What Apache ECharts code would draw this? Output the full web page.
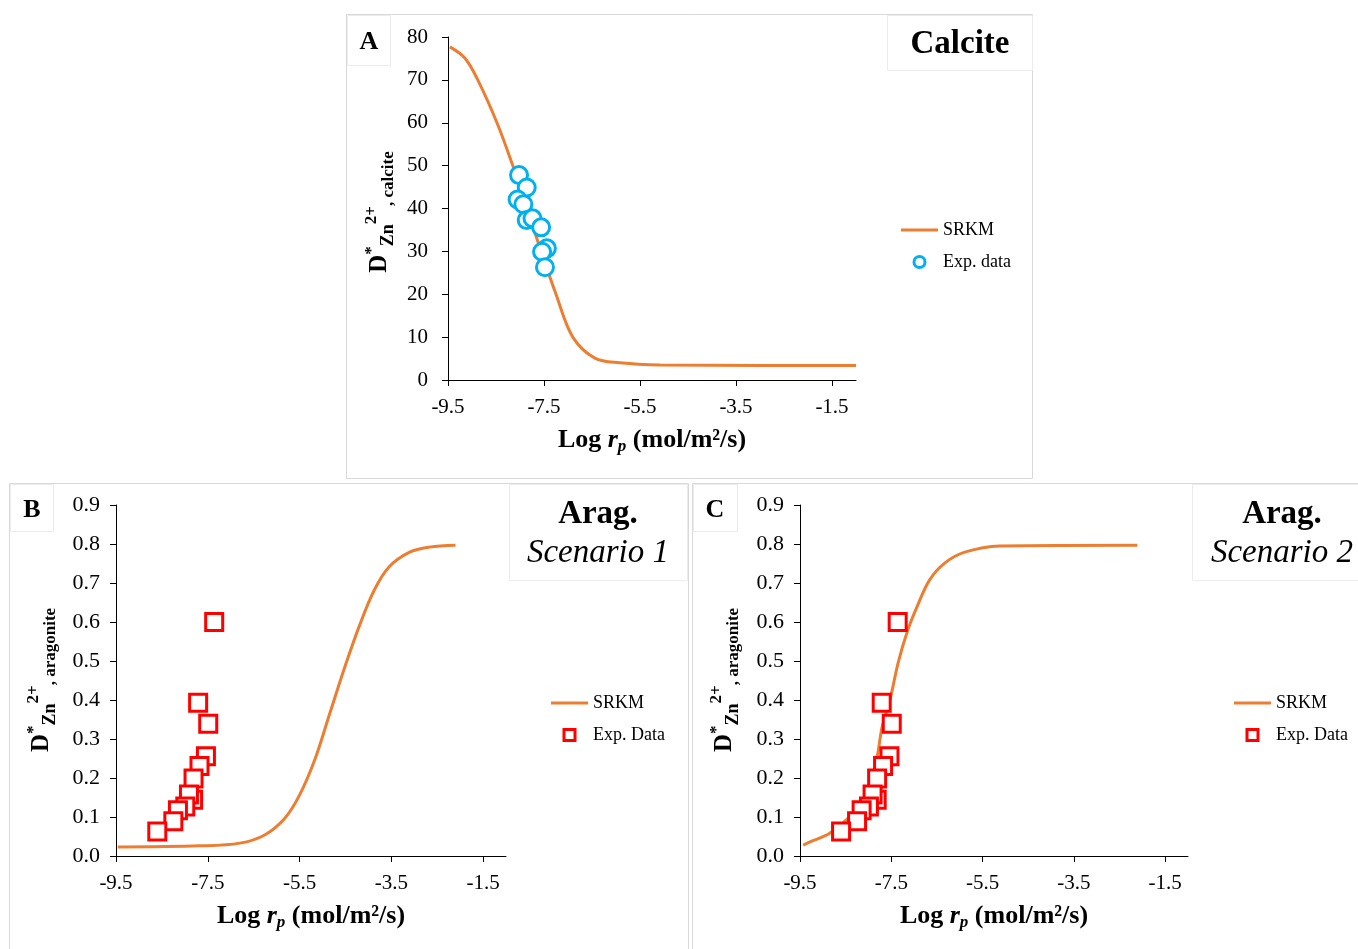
<!DOCTYPE html>
<html>
<head>
<meta charset="utf-8">
<script src="https://cdn.jsdelivr.net/npm/echarts@6/dist/echarts.min.js"></script>
<style>
  html, body { margin: 0; padding: 0; background: #fff; }
  #chart { width: 1358px; height: 949px; }
</style>
</head>
<body>
<div id="chart"></div>
<script>
// x tick labels shared by all three panels
const xTicks = [-9.5, -7.5, -5.5, -3.5, -1.5];

// Panel A - calcite, SRKM model curve [log rp, D]
const calciteModel = [
  [-9.46, 77.7], [-9.15, 75.1], [-8.88, 70.0], [-8.48, 60.0], [-8.15, 50.0],
  [-7.85, 40.0], [-7.56, 30.0], [-7.25, 20.0], [-6.90, 10.0], [-6.44, 5.1],
  [-5.92, 4.0], [-5.08, 3.5], [-3.0, 3.4], [-1.0, 3.4]
];
// Panel A - experimental data
const calciteExp = [
  [-8.02, 47.8], [-7.86, 44.9], [-8.05, 42.1], [-7.93, 41.0], [-7.86, 37.3],
  [-7.74, 37.7], [-7.56, 35.6], [-7.44, 30.7], [-7.54, 29.9], [-7.48, 26.3]
];

// Panel B - aragonite scenario 1 model curve
const aragModel1 = [
  [-9.46, 0.023], [-7.67, 0.026], [-6.80, 0.033], [-6.26, 0.054], [-5.82, 0.097],
  [-5.50, 0.156], [-5.17, 0.246], [-4.85, 0.362], [-4.52, 0.482], [-4.19, 0.592],
  [-3.87, 0.682], [-3.55, 0.741], [-3.10, 0.779], [-2.67, 0.792], [-2.10, 0.797]
];
// Panel C - aragonite scenario 2 model curve
const aragModel2 = [
  [-9.43, 0.028], [-9.28, 0.036], [-8.84, 0.059], [-8.34, 0.110], [-7.97, 0.177],
  [-7.81, 0.254], [-7.70, 0.331], [-7.53, 0.400], [-7.35, 0.495], [-7.16, 0.572],
  [-6.94, 0.638], [-6.66, 0.708], [-6.33, 0.751], [-5.89, 0.779], [-5.13, 0.795],
  [-2.11, 0.797]
];
// Panels B and C - aragonite experimental data
const aragExp = [
  [-7.36, 0.600], [-7.71, 0.393], [-7.49, 0.339], [-7.54, 0.256], [-7.68, 0.231],
  [-7.81, 0.199], [-7.82, 0.144], [-7.91, 0.158], [-7.99, 0.127], [-8.15, 0.117],
  [-8.25, 0.089], [-8.60, 0.063]
];

const FONT = '"Liberation Serif", "Times New Roman", serif';
const ORANGE = '#ED7D31';
const BLUE = '#00B0F0';
const RED = '#FF0000';

const chart = echarts.init(document.getElementById('chart'));

function xAxisFor(gridIndex) {
  return {
    type: 'value', gridIndex, min: -9.5, max: -1,
    axisLine: { lineStyle: { color: '#000', width: 1 } },
    axisTick: { customValues: xTicks, length: 6, lineStyle: { color: '#000' } },
    axisLabel: {
      customValues: xTicks, margin: 17,
      color: '#000', fontFamily: FONT, fontSize: 21,
      formatter: (v) => v.toFixed(1)
    },
    splitLine: { show: false }
  };
}

function yAxisFor(gridIndex, max, interval, digits, fontSize, margin) {
  return {
    type: 'value', gridIndex, min: 0, max, interval,
    axisLine: { show: true, lineStyle: { color: '#000', width: 1 } },
    axisTick: { show: true, length: 6, lineStyle: { color: '#000' } },
    axisLabel: {
      margin, color: '#000', fontFamily: FONT, fontSize,
      formatter: (v) => v.toFixed(digits)
    },
    splitLine: { show: false }
  };
}

// rich text styles for the axis titles
const yRich = {
  d: { fontFamily: FONT, fontSize: 25, fontWeight: 'bold', lineHeight: 34, color: '#000' },
  st: { fontFamily: FONT, fontSize: 17, fontWeight: 'bold', lineHeight: 22, verticalAlign: 'top', color: '#000' },
  zn: { fontFamily: FONT, fontSize: 18, fontWeight: 'bold', lineHeight: 16, verticalAlign: 'bottom', color: '#000' },
  sup: { fontFamily: FONT, fontSize: 17, fontWeight: 'bold', lineHeight: 24, verticalAlign: 'top', color: '#000' },
  sub: { fontFamily: FONT, fontSize: 17, fontWeight: 'bold', lineHeight: 16, verticalAlign: 'bottom', color: '#000' }
};
const xRich = {
  b: { fontFamily: FONT, fontSize: 26, fontWeight: 'bold', lineHeight: 30, color: '#000' },
  i: { fontFamily: FONT, fontSize: 26, fontWeight: 'bold', fontStyle: 'italic', lineHeight: 30, color: '#000' },
  p: { fontFamily: FONT, fontSize: 17, fontWeight: 'bold', fontStyle: 'italic', lineHeight: 16, verticalAlign: 'bottom', color: '#000' }
};
const xTitle = '{b|Log }{i|r}{p|p}{b| (mol/m²/s)}';

function frame(x, y, w, h, color) {
  return {
    type: 'rect', shape: { x, y, width: w, height: h }, z: -1,
    style: { fill: null, stroke: color, lineWidth: 1 }
  };
}
function label(x, y, text, size, weight, style) {
  return {
    type: 'text', x, y, z: 10,
    style: {
      text, fontFamily: FONT, fontSize: size, fontWeight: weight, fontStyle: style || 'normal',
      fill: '#000', align: 'center', verticalAlign: 'middle'
    }
  };
}
function richLabel(x, y, text, rich, rotation) {
  return {
    type: 'text', x, y, rotation: rotation || 0, z: 10,
    style: { text, rich, align: 'center', verticalAlign: 'middle' }
  };
}

const LINE_ICON = 'path://M0,0H12V1H0Z';
const SQUARE_ICON = 'path://M0,0H10V10H0Z';

const legendBase = {
  orient: 'vertical', padding: 0, itemGap: 14,
  itemWidth: 37, itemHeight: 11, symbolKeepAspect: true,
  textStyle: { fontFamily: FONT, fontSize: 18, color: '#000' },
  itemStyle: { borderWidth: 3 },
  selectedMode: false
};

const lineSeries = (name, data, idx) => ({
  name, type: 'line', data, xAxisIndex: idx, yAxisIndex: idx,
  smooth: 0.35, symbol: 'none',
  lineStyle: { color: ORANGE, width: 3 }, itemStyle: { color: ORANGE }, z: 2
});
const scatterSeries = (name, data, idx, symbol, color) => ({
  name, type: 'scatter', data, xAxisIndex: idx, yAxisIndex: idx,
  symbol, symbolSize: 17,
  itemStyle: { color: '#fff', borderColor: color, borderWidth: 3, opacity: 1 }, z: 3
});

const lineItem = { name: 'SRKM', icon: LINE_ICON, itemStyle: { borderWidth: 0 } };

const option = {
  animation: false,
  backgroundColor: '#fff',
  grid: [
    { left: 448, top: 37, width: 408, height: 343 },
    { left: 116, top: 505, width: 390, height: 351 },
    { left: 800, top: 505, width: 388, height: 351 }
  ],
  xAxis: [xAxisFor(0), xAxisFor(1), xAxisFor(2)],
  yAxis: [
    yAxisFor(0, 80, 10, 0, 21, 20),
    yAxisFor(1, 0.9, 0.1, 1, 22, 16),
    yAxisFor(2, 0.9, 0.1, 1, 22, 16)
  ],
  legend: [
    Object.assign({}, legendBase, { left: 901, top: 221, data: [lineItem, 'Exp. data'] }),
    Object.assign({}, legendBase, { left: 551, top: 694, data: [lineItem, { name: 'Exp. Data', icon: SQUARE_ICON }] }),
    Object.assign({}, legendBase, { left: 1234, top: 694, data: [lineItem, { name: 'Exp. Data', icon: SQUARE_ICON }] })
  ],
  series: [
    lineSeries('SRKM', calciteModel, 0),
    scatterSeries('Exp. data', calciteExp, 0, 'circle', BLUE),
    lineSeries('SRKM', aragModel1, 1),
    scatterSeries('Exp. Data', aragExp, 1, 'rect', RED),
    lineSeries('SRKM', aragModel2, 2),
    scatterSeries('Exp. Data', aragExp, 2, 'rect', RED)
  ],
  graphic: [
    // panel frames
    frame(346.5, 14.5, 686, 464, '#d9d9d9'),
    frame(9.5, 483.5, 679, 470, '#d9d9d9'),
    frame(692.5, 483.5, 670, 470, '#d9d9d9'),
    // letter and title boxes
    frame(347.5, 15.5, 43, 50, '#ececec'),
    frame(887.5, 15.5, 145, 55, '#ececec'),
    frame(10.5, 484.5, 43, 47, '#ececec'),
    frame(509.5, 484.5, 178, 96, '#ececec'),
    frame(693.5, 484.5, 44, 47, '#ececec'),
    frame(1192.5, 484.5, 170, 96, '#ececec'),
    label(369, 42, 'A', 26, 'bold'),
    label(32, 510, 'B', 26, 'bold'),
    label(715, 510, 'C', 26, 'bold'),
    label(960, 44, 'Calcite', 33, 'bold'),
    label(598, 514, 'Arag.', 33, 'bold'),
    label(598, 553, 'Scenario 1', 33, 'normal', 'italic'),
    label(1282, 514, 'Arag.', 33, 'bold'),
    label(1282, 553, 'Scenario 2', 33, 'normal', 'italic'),
    // axis titles
    richLabel(652, 440, xTitle, xRich),
    richLabel(311, 916, xTitle, xRich),
    richLabel(994, 916, xTitle, xRich),
    richLabel(380, 212, '{d|D}{st|*}{zn|Zn}{sup|2+}{sub|, calcite}', yRich, Math.PI / 2),
    richLabel(42, 680, '{d|D}{st|*}{zn|Zn}{sup|2+}{sub|, aragonite}', yRich, Math.PI / 2),
    richLabel(725, 680, '{d|D}{st|*}{zn|Zn}{sup|2+}{sub|, aragonite}', yRich, Math.PI / 2)
  ]
};

chart.setOption(option);
</script>
</body>
</html>
